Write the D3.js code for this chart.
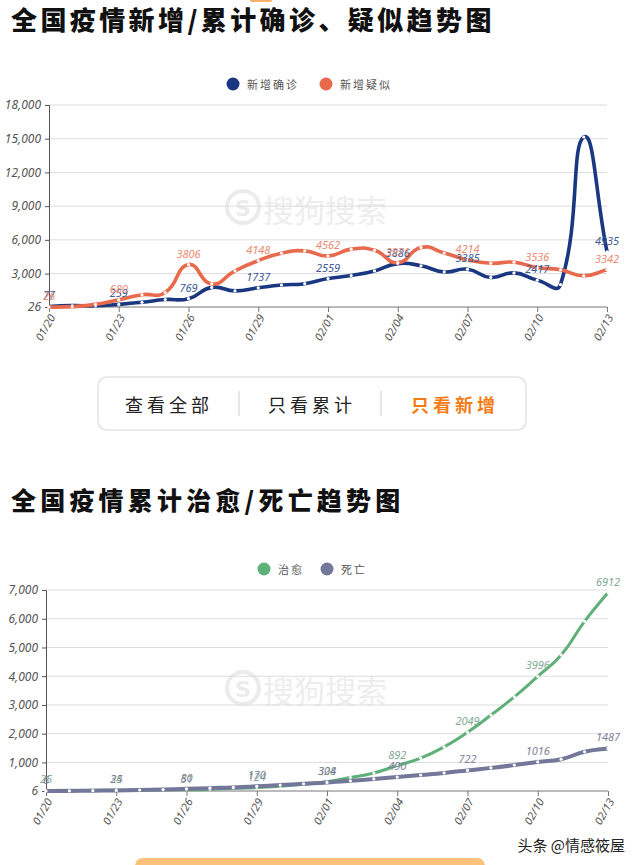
<!DOCTYPE html>
<html><head><meta charset="utf-8">
<script src="https://cdn.jsdelivr.net/npm/d3@7"></script>
<style>
html,body{margin:0;padding:0;background:#fff;}
svg{display:block;}
</style></head><body>
<svg id="c" width="640" height="865"></svg>
<script>
// ---------- data ----------
const dates = ["01/20","01/21","01/22","01/23","01/24","01/25","01/26","01/27","01/28","01/29","01/30","01/31",
  "02/01","02/02","02/03","02/04","02/05","02/06","02/07","02/08","02/09","02/10","02/11","02/12","02/13"];
const newConfirmed = [77,149,131,259,444,688,769,1771,1459,1737,1982,2102,2559,2829,3235,3886,3694,3143,3385,2656,3062,2417,2015,15152,4935];
const newSuspected = [26,60,257,680,1118,1309,3806,2077,3248,4148,4812,5019,4562,5173,5072,3971,5328,4833,4214,3916,4008,3536,3342,2807,3342];
const cured = [25,28,28,34,38,49,51,60,103,124,171,243,328,475,632,892,1153,1540,2049,2649,3281,3996,4740,5911,6912];
const deaths = [6,9,17,25,41,56,80,106,132,170,213,259,304,361,425,490,563,636,722,811,908,1016,1113,1370,1487];
const yTicksNew = [3000,6000,9000,12000,15000,18000];
const yTicksCum = [1000,2000,3000,4000,5000,6000,7000];
const labelStep = 3;
const seriesNew = [
  {name:"新增确诊", values:newConfirmed, color:"#1a3781", label:"#3d5b96", width:3.6},
  {name:"新增疑似", values:newSuspected, color:"#e9694c", label:"#ec8b74", width:3.6}
];
const seriesCum = [
  {name:"治愈", values:cured, color:"#5fb078", label:"#82ab92", width:3},
  {name:"死亡", values:deaths, color:"#737799", label:"#7f8199", width:4}
];
const buttons = ["查看全部","只看累计","只看新增"];

const svg = d3.select("#c");
const fmt = d3.format(",");

// ECharts-like smooth bezier path
function smoothPath(pts, smooth){
  let d = "M" + pts[0][0] + "," + pts[0][1];
  let cp0 = pts[0].slice();
  const n = pts.length;
  for(let i=1;i<n;i++){
    const [x,y] = pts[i];
    const [px,py] = pts[i-1];
    const [nx,ny] = i+1<n ? pts[i+1] : pts[i];
    const vx = nx-px, vy = ny-py;
    const l0 = Math.hypot(x-px,y-py), l1 = Math.hypot(nx-x,ny-y);
    const r = (l0+l1)>0 ? l1/(l0+l1) : 0.5;
    const c1x = x - vx*smooth*(1-r), c1y = y - vy*smooth*(1-r);
    d += "C"+cp0[0]+","+cp0[1]+","+c1x+","+c1y+","+x+","+y;
    cp0 = [x + vx*smooth*r, y + vy*smooth*r];
  }
  return d;
}

function watermark(cx, cy){
  const g = svg.append("g");
  g.append("circle").attr("cx",cx).attr("cy",cy).attr("r",16).attr("fill","none")
    .attr("stroke","#ebebeb").attr("stroke-width",4);
  g.append("text").attr("x",cx).attr("y",cy+1).attr("text-anchor","middle").attr("dominant-baseline","central")
    .attr("font-family","DejaVu Sans").attr("font-weight","bold").attr("font-size",22).attr("fill","#ebebeb").text("S");
  g.append("text").attr("x",cx+20).attr("y",cy+1).attr("dominant-baseline","central")
    .attr("font-family","Noto Sans CJK SC").attr("font-size",31).attr("fill","#ededed").text("搜狗搜索");
}

function chart(opt){
  const {series, x0, x1, yBottom, yTop, ticks, legendY, legendX, wm} = opt;
  const all = series.flatMap(s=>s.values);
  const yMin = d3.min(all);
  const x = d3.scalePoint().domain(dates).range([x0,x1]);
  const y = d3.scaleLinear().domain([yMin, d3.max(ticks)]).range([yBottom, yTop]);
  watermark(wm[0], wm[1]);
  // grid
  svg.append("g").selectAll("line").data(ticks).join("line")
    .attr("x1",x0).attr("x2",x1).attr("y1",d=>y(d)).attr("y2",d=>y(d))
    .attr("stroke","#dcdcdc").attr("stroke-width",1);
  // y axis
  const yAxis = d3.axisLeft(y).tickValues([yMin].concat(ticks)).tickFormat(d=>fmt(d)).tickSize(4).tickPadding(4);
  const ga = svg.append("g").attr("transform",`translate(${x0},0)`).call(yAxis);
  ga.select(".domain").attr("stroke","#555");
  ga.selectAll(".tick line").attr("stroke","#555");
  ga.selectAll("text").attr("font-family","Noto Sans, DejaVu Sans").attr("font-style","italic")
    .attr("font-size",12).attr("fill","#555");
  // x axis
  const xTicks = dates.filter((d,i)=>i%labelStep===0);
  const xAxis = d3.axisBottom(x).tickValues(xTicks).tickSize(5).tickFormat("");
  const gx = svg.append("g").attr("transform",`translate(0,${yBottom})`).call(xAxis);
  gx.select(".domain").attr("stroke","#777").attr("d",`M${x0},0H${x1}`);
  gx.selectAll(".tick line").attr("stroke","#777");
  svg.append("g").selectAll("text").data(xTicks).join("text")
    .attr("transform",d=>`translate(${x(d)+3},${yBottom+8}) rotate(-60)`)
    .attr("text-anchor","end").attr("dominant-baseline","central")
    .attr("font-family","Noto Sans, DejaVu Sans").attr("font-style","italic").attr("font-size",11).attr("fill","#555")
    .text(d=>d);
  // lines
  series.forEach(s=>{
    const pts = s.values.map((v,i)=>[x(dates[i]), y(v)]);
    svg.append("path").attr("d",smoothPath(pts,0.5)).attr("fill","none")
      .attr("stroke",s.color).attr("stroke-width",s.width).attr("stroke-linejoin","round");
    svg.append("g").selectAll("circle").data(pts).join("circle")
      .attr("cx",d=>d[0]).attr("cy",d=>d[1]).attr("r",1.6).attr("fill","#fff");
  });
  // labels
  series.forEach(s=>{
    svg.append("g").selectAll("text").data(s.values.map((v,i)=>({v,i})).filter(d=>d.i%labelStep===0)).join("text")
      .attr("x",d=>x(dates[d.i])).attr("y",d=>y(d.v)-7)
      .attr("text-anchor","middle").attr("font-family","Noto Sans, DejaVu Sans").attr("font-style","italic")
      .attr("font-size",11).attr("fill",s.label).text(d=>d.v);
  });
  // legend
  let lx = legendX;
  series.forEach(s=>{
    svg.append("circle").attr("cx",lx).attr("cy",legendY).attr("r",6.5).attr("fill",s.color);
    const t = svg.append("text").attr("x",lx+14).attr("y",legendY).attr("dominant-baseline","central")
      .attr("font-family","Noto Sans CJK SC").attr("font-size",11).attr("letter-spacing",2).attr("fill","#555").text(s.name);
    lx += 14 + t.node().getComputedTextLength() + 2*s.name.length + 19;
  });
}

// titles
svg.append("text").attr("x",11).attr("y",18).attr("dominant-baseline","central")
  .attr("font-family","Noto Sans CJK SC").attr("font-weight",900).attr("font-size",26).attr("letter-spacing",3.4)
  .attr("fill","#111").text("全国疫情新增/累计确诊、疑似趋势图");
svg.append("text").attr("x",11).attr("y",499).attr("dominant-baseline","central")
  .attr("font-family","Noto Sans CJK SC").attr("font-weight",900).attr("font-size",25).attr("letter-spacing",4.2)
  .attr("fill","#111").text("全国疫情累计治愈/死亡趋势图");

chart({series:seriesNew, x0:49, x1:607, yBottom:307, yTop:105, ticks:yTicksNew, legendY:84, legendX:233, wm:[243,207]});
chart({series:seriesCum, x0:46, x1:608, yBottom:791, yTop:590, ticks:yTicksCum, legendY:569, legendX:264, wm:[243,688]});

// button bar
svg.append("rect").attr("x",98).attr("y",377).attr("width",428).attr("height",53).attr("rx",9)
  .attr("fill","#fff").attr("stroke","#e3e3e3").attr("stroke-width",1.5);
[239,381].forEach(sx=>svg.append("line").attr("x1",sx).attr("x2",sx).attr("y1",391).attr("y2",416)
  .attr("stroke","#dedede").attr("stroke-width",1.5));
const bx = [169,312,455];
buttons.forEach((b,i)=>{
  svg.append("text").attr("x",bx[i]).attr("y",404).attr("text-anchor","middle").attr("dominant-baseline","central")
    .attr("font-family","Noto Sans CJK SC").attr("font-size",18).attr("letter-spacing",4)
    .attr("font-weight", i===2 ? 700 : 400)
    .attr("fill", i===2 ? "#f47c17" : "#222").text(b);
});

// footer
svg.append("rect").attr("x",250).attr("y",-4).attr("width",22).attr("height",6).attr("rx",2).attr("fill","#f6b06a");
svg.append("rect").attr("x",135).attr("y",858).attr("width",350).attr("height",20).attr("rx",8).attr("fill","#fcc27c");
svg.append("text").attr("x",625).attr("y",844).attr("text-anchor","end").attr("dominant-baseline","central")
  .attr("font-family","Noto Sans CJK SC").attr("font-size",15).attr("fill","#222")
  .attr("stroke","#fff").attr("stroke-width",3).attr("paint-order","stroke").text("头条 @情感筱屋");
</script>
</body></html>
